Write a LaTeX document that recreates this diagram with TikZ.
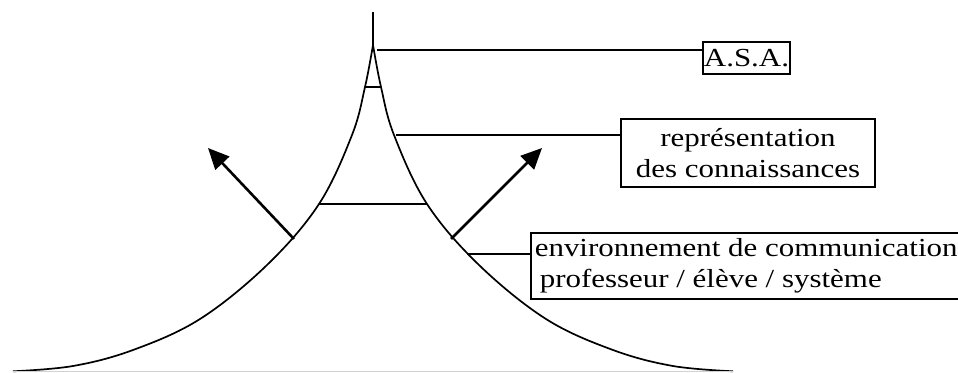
\documentclass[tikz,border=0pt]{standalone}
\usepackage{fontspec}
\setmainfont{Liberation Serif}[FakeStretch=1.19]
\usetikzlibrary{positioning,arrows.meta,calc}
\tikzset{
  tour/.style={line width=1.7pt},
  liaison/.style={line width=1.6pt},
  etiquette/.style={draw, line width=1.6pt, inner sep=0pt, align=center,
    font=\fontsize{26}{31}\selectfont},
  fleche/.style={line width=2.6pt, -{Triangle[length=21pt,width=19pt]}},
}

\begin{document}
\begin{tikzpicture}[x=1pt,y=-1pt]
\useasboundingbox (0,0) rectangle (958,372);
% la tour
\draw[line width=2.2pt] (373,12) -- (373,48);
\foreach \s in {-1,1}
  \draw[tour] plot[smooth, tension=0.6] coordinates {(373,45) ({373+\s*8},87)
    ({373+\s*21},135) ({373+\s*54},204) ({373+\s*106},265) ({373+\s*173},319)
    ({373+\s*240},350) ({373+\s*300},366) ({373+\s*360},371.3)};
\draw[gray!35, line width=0.6pt] (13,371.6) -- (733,371.6);

% paliers
\coordinate (p1g) at (365,87);
\coordinate (p1d) at (381,87);
\coordinate (p2g) at (319,204);
\coordinate (p2d) at (427,204);
\draw[liaison] (p1g) -- (p1d);
\draw[liaison] (p2g) -- (p2d);

% fleches
\coordinate (fg) at (294,239);
\coordinate (fd) at (451,239);
\coordinate (bg) at (208,148);
\coordinate (bd) at (542,148);
\draw[fleche] (fg) -- (bg);
\draw[fleche] (fd) -- (bd);

% etiquettes
\node[etiquette, minimum width=87pt, minimum height=32pt] (asa) at (746.5,58) {A.S.A.};
\node[etiquette, minimum width=254pt, minimum height=68pt] (repr) at (748,153)
  {représentation\\des connaissances};
\node[etiquette, minimum height=66pt, inner xsep=4pt, align=left, anchor=west] (env) at (530,266)
  {environnement de communication\\\hspace*{5pt}professeur / élève / système};

\coordinate (asaPied) at (377,50);
\coordinate (reprPied) at (396,135);
\coordinate (envPied) at (467,254);
\draw[liaison] (asaPied) -- (asaPied -| asa.west);
\draw[liaison] (reprPied) -- (reprPied -| repr.west);
\draw[liaison] (envPied) -- (envPied -| env.west);
\end{tikzpicture}
\end{document}
